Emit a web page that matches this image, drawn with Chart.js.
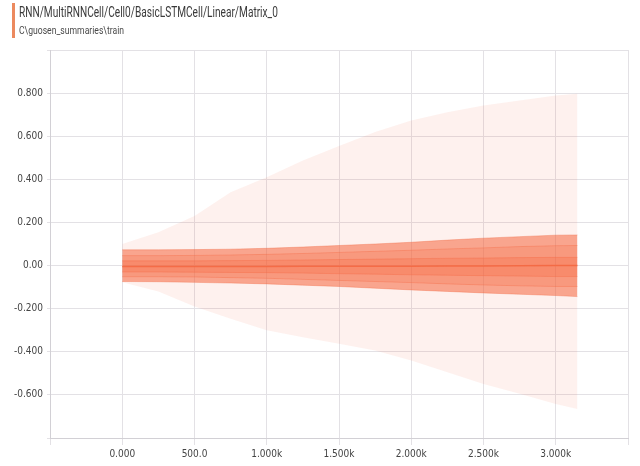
<!DOCTYPE html>
<html>
<head>
<meta charset="utf-8">
<script src="https://cdn.jsdelivr.net/npm/chart.js@4.4.1/dist/chart.umd.min.js"></script>
<style>
  body { margin: 0; background: #fff; }
  #wrap { position: relative; width: 640px; height: 466px; }
  #bar { position: absolute; left: 12px; top: 3px; width: 3px; height: 35px; background: #ec8a5f; }
  .ttl { position: absolute; left: 19px; white-space: nowrap; font-family: Roboto, sans-serif; transform-origin: 0 0; }
  #title { top: 5px; font-size: 15px; line-height: 15px; color: #3a3a3a; }
  #sub { top: 25px; font-size: 11px; line-height: 11px; color: #4a4a4a; }
  canvas { position: absolute; left: 0; top: 0; }
</style>
</head>
<body>
<div id="wrap">
  <canvas id="dist" width="640" height="466"></canvas>
  <div id="bar"></div>
  <div class="ttl" id="title">RNN/MultiRNNCell/Cell0/BasicLSTMCell/Linear/Matrix_0</div>
  <div class="ttl" id="sub">C\guosen_summaries\train</div>
</div>
<script>
// 横に詰まった見出しを元の幅に合わせる
function squeeze(id, w) {
    let el = document.getElementById(id);
    el.style.transform = "scaleX(" + (w / el.offsetWidth) + ")";
}
squeeze("title", 259);
squeeze("sub", 105);

// ステップ
const steps = [0, 250, 500, 750, 1000, 1250, 1500, 1750, 2000, 2250, 2500, 2750, 3000, 3150];

// パーセンタイル毎の値
const pMax = [0.100, 0.155, 0.230, 0.340, 0.410, 0.487, 0.555, 0.620, 0.673, 0.711, 0.742, 0.766, 0.789, 0.797];
const p93 = [0.073, 0.073, 0.074, 0.076, 0.080, 0.086, 0.093, 0.100, 0.108, 0.118, 0.127, 0.134, 0.141, 0.142];
const p84 = [0.046, 0.046, 0.047, 0.049, 0.052, 0.056, 0.061, 0.066, 0.071, 0.077, 0.082, 0.088, 0.092, 0.093];
const p69 = [0.022, 0.022, 0.022, 0.023, 0.024, 0.026, 0.028, 0.030, 0.032, 0.034, 0.035, 0.037, 0.038, 0.038];
const p50 = [-0.004, -0.004, -0.004, -0.004, -0.004, -0.003, -0.003, -0.003, -0.003, -0.002, -0.002, -0.001, 0.000, 0.000];
const p31 = [-0.030, -0.030, -0.031, -0.032, -0.033, -0.035, -0.038, -0.040, -0.043, -0.045, -0.047, -0.049, -0.051, -0.051];
const p16 = [-0.052, -0.052, -0.053, -0.056, -0.059, -0.064, -0.069, -0.074, -0.079, -0.085, -0.090, -0.094, -0.097, -0.097];
const p7 = [-0.074, -0.075, -0.078, -0.081, -0.085, -0.091, -0.097, -0.105, -0.113, -0.120, -0.127, -0.133, -0.139, -0.144];
const pMin = [-0.077, -0.120, -0.190, -0.247, -0.300, -0.333, -0.363, -0.394, -0.440, -0.495, -0.549, -0.595, -0.642, -0.665];

function pts(arr) {
    return arr.map(function (v, i) { return { x: steps[i], y: v }; });
}

function band(arr, fillTo, alpha, line) {
    return {
        data: pts(arr),
        fill: fillTo,
        backgroundColor: "rgba(246,104,64," + alpha + ")",
        borderColor: line ? "rgba(238,98,58,0.35)" : "rgba(0,0,0,0)",
        borderWidth: line ? 1 : 0,
        pointRadius: 0,
        tension: 0,
    };
}

const tickFont = { family: "DejaVu Sans Condensed, DejaVu Sans", size: 10 };

new Chart(document.getElementById("dist"), {
    type: "line",
    data: {
        datasets: [
            band(pMax, 1, 0.09, false),
            band(pMin, false, 0, false),
            band(p93, 3, 0.55, true),
            band(p7, false, 0, true),
            band(p84, 5, 0.2, true),
            band(p16, false, 0, true),
            band(p69, 7, 0.3, true),
            band(p31, false, 0, true),
            {
                data: pts(p50),
                fill: false,
                borderColor: "rgba(240,96,56,0.8)",
                borderWidth: 1.5,
                pointRadius: 0,
            },
        ],
    },
    options: {
        responsive: false,
        animation: false,
        layout: { padding: { top: 50, right: 12, left: 0, bottom: 0 } },
        plugins: { legend: { display: false }, tooltip: { enabled: false } },
        scales: {
            x: {
                type: "linear",
                min: -500,
                max: 3500,
                afterFit: function (s) { s.height = 28; },
                grid: { color: "#e3e1e5", tickLength: 7 },
                border: { color: "#d2d0d5" },
                ticks: {
                    stepSize: 500,
                    autoSkip: false,
                    maxRotation: 0,
                    padding: 3,
                    color: "#444",
                    font: tickFont,
                    callback: function (v) {
                        if (v < 0 || v > 3000) return "";
                        if (v === 0) return "0.000";
                        if (v < 1000) return v.toFixed(1);
                        return (v / 1000).toFixed(3) + "k";
                    },
                },
            },
            y: {
                min: -0.8,
                max: 1.0,
                afterFit: function (s) { s.width = 50; },
                grid: { color: "#e3e1e5", tickLength: 3 },
                border: { color: "#d2d0d5" },
                ticks: {
                    stepSize: 0.2,
                    autoSkip: false,
                    padding: 4,
                    color: "#444",
                    font: tickFont,
                    callback: function (v) {
                        let r = Math.round(v * 1000) / 1000;
                        if (r >= 1 || r <= -0.8) return "";
                        if (r === 0) return "0.00";
                        return r.toFixed(3);
                    },
                },
            },
        },
    },
});
</script>
</body>
</html>
